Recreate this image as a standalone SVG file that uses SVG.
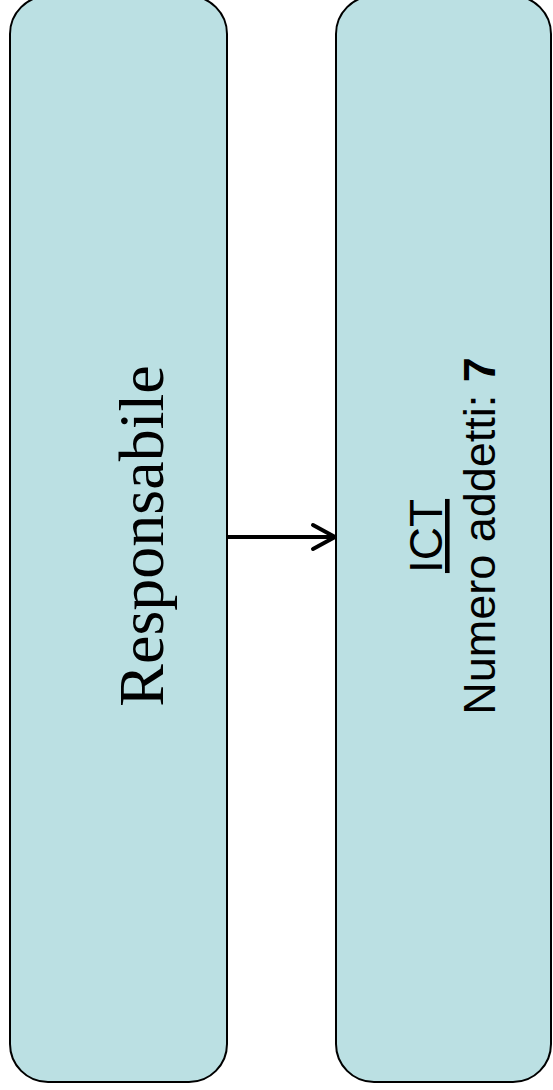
<svg xmlns="http://www.w3.org/2000/svg" width="553" height="1090" viewBox="0 0 553 1090">
<style>
.box{fill:#BBE0E3;stroke:#000;stroke-width:2}
.serif{font-family:"Liberation Serif","Times New Roman",serif;fill:#000}
.sans{font-family:"Liberation Sans",Arial,sans-serif;fill:#000}
.conn{stroke:#000;stroke-width:4;fill:none;stroke-linecap:round;stroke-linejoin:miter}
</style>
<rect width="553" height="1090" fill="#fff"/>
<g id="connectors">
<line class="conn" x1="228" y1="537" x2="333" y2="537"/>
<path class="conn" d="M313,525 L335,537 L313,549"/>
</g>
<g id="node-responsabile">
<rect class="box" x="10" y="-4" width="217" height="1086" rx="38" ry="38"/>
<text class="serif" font-size="64" text-anchor="middle" transform="translate(163,536) rotate(-90)">Responsabile</text>
</g>
<g id="node-ict">
<rect class="box" x="336" y="-4" width="215" height="1086" rx="38" ry="38"/>
<text class="sans" font-size="46" text-anchor="middle" text-decoration="underline" transform="translate(442,536) rotate(-90)">ICT</text>
<text class="sans" font-size="45" text-anchor="middle" transform="translate(495,536) rotate(-90)">Numero addetti: <tspan font-weight="bold">7</tspan></text>
</g>
</svg>
